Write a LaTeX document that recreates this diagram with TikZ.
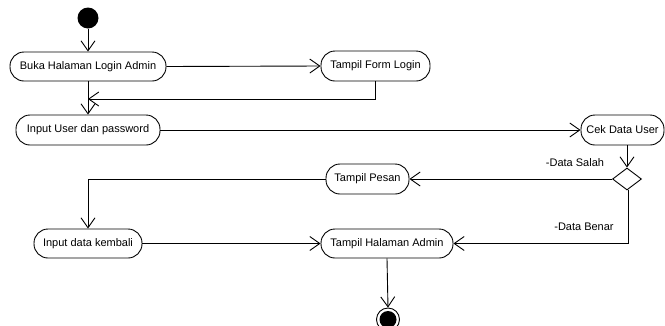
\documentclass[tikz,border=0pt]{standalone}
\usepackage{fontspec}
\setmainfont{Liberation Sans}
\usetikzlibrary{arrows.meta,shapes.geometric}
\begin{document}
\begin{tikzpicture}[x=1pt,y=-1pt,
  every node/.style={font=\fontsize{11}{13}\selectfont},
  act/.style={draw,line width=0.9pt,rounded corners=14pt,inner sep=0pt,minimum height=29pt},
  flow/.style={line width=0.9pt,-{Straight Barb[length=10pt,width=14pt,line width=0.9pt]}},
  plain/.style={line width=0.9pt},
  lbl/.style={inner sep=0pt}]
\useasboundingbox (0,0) rectangle (665,325);
\clip (0,0) rectangle (665,325);
% nodes
\node[circle,fill=black,inner sep=0pt,minimum size=21pt] (start) at (88,18) {};
\node[act,minimum width=156pt] (buka) at (88,66.5) {Buka Halaman Login Admin};
\node[act,minimum width=109pt,minimum height=30pt] (form) at (375.5,66) {Tampil Form Login};
\node[act,minimum width=144pt,minimum height=30pt] (input) at (88,130) {Input User dan password};
\node[act,minimum width=83pt,minimum height=30pt] (cek) at (622.5,130) {Cek Data User};
\node[diamond,draw,line width=0.9pt,inner sep=0pt,minimum width=29pt,minimum height=22pt] (dia) at (627,179) {};
\node[act,minimum width=83pt,minimum height=30pt] (pesan) at (367.5,179) {Tampil Pesan};
\node[act,minimum width=108pt] (kembali) at (88,243.5) {Input data kembali};
\node[act,minimum width=132pt] (admin) at (387,243.5) {Tampil Halaman Admin};
\node[circle,draw,line width=0.9pt,inner sep=0pt,minimum size=23pt] (end) at (388,319.5) {};
\node[circle,fill=black,inner sep=0pt,minimum size=17pt] (endin) at (388,319.5) {};
\coordinate (j1) at (88,99);
\coordinate (j2) at (375.5,99);
\coordinate (j3) at (88,179);
\coordinate (j4) at (628,243.5);
% labels
\node[lbl] (lsalah) at (575,163) {-Data Salah};
\node[lbl] (lbenar) at (584,227) {-Data Benar};
% connectors
\draw[flow] (start) -- (buka.north);
\draw[flow] (buka.east) -- (form.west);
\draw[flow] (form.south) -- (j2) -- (j1);
\draw[flow] (buka.south) -- (input.north);
\draw[flow] (input.east) -- (cek.west);
\draw[flow] (cek.south -| dia.north) -- (dia.north);
\draw[flow] (dia.west) -- (pesan.east);
\draw[flow] (pesan.west) -- (j3) -- (kembali.north);
\draw[flow] (kembali.east) -- (admin.west);
\draw[flow] (dia.south -| j4) -- (j4) -- (admin.east);
\draw[flow] (admin.south) -- (end.north);
\end{tikzpicture}
\end{document}
